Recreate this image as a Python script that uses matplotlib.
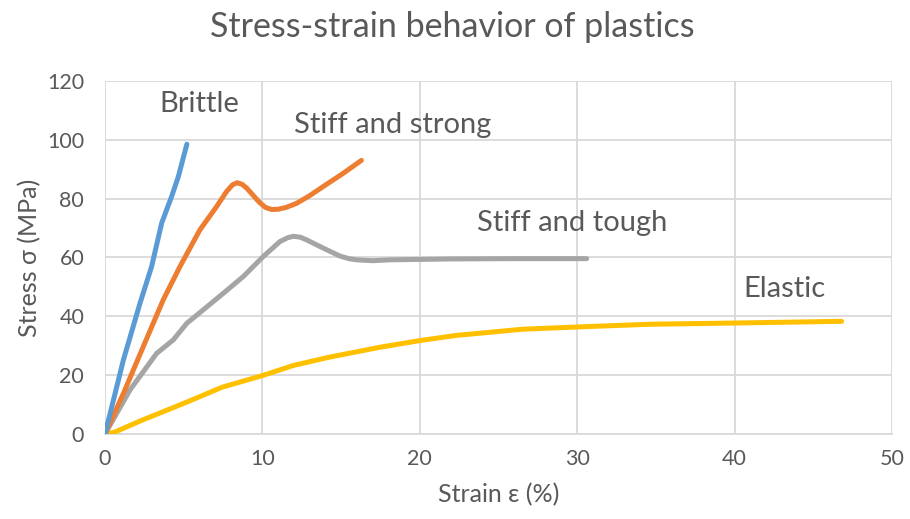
import matplotlib.pyplot as plt

plt.rcParams['font.family'] = ['Lato', 'DejaVu Sans']

# Curvas (deformación %, esfuerzo MPa)
brittle_x = [0, 1.17, 2.22, 2.96, 3.6, 4.23, 4.66, 5.2]
brittle_y = [0, 25.2, 44.4, 56.9, 71.7, 80.7, 87.5, 98.5]

strong_x = [0, 1.17, 2.43, 3.7, 4.76, 6.03, 7.09, 7.72, 8.1, 8.4, 8.7, 9.0, 9.4,
            9.8, 10.2, 10.6, 11.0, 11.5, 12.17, 13.0, 13.86, 15.13, 16.29]
strong_y = [0, 13.8, 29.7, 45.6, 56.9, 69.4, 77.3, 82.4, 84.7, 85.4, 84.9, 83.6, 81.2,
            78.8, 77.0, 76.3, 76.4, 77.0, 78.4, 81.0, 84.1, 88.6, 93.0]

tough_x = [0, 1.59, 3.28, 4.34, 5.19, 6.24, 7.51, 8.78, 10.05, 11.11, 11.6, 11.96,
           12.4, 12.8, 13.86, 14.92, 15.5, 15.98, 17.0, 18.1, 22.0, 26.0, 30.6]
tough_y = [0, 15.0, 27.4, 32.0, 37.6, 42.2, 47.8, 53.5, 60.3, 65.4, 66.7, 67.2,
           66.9, 66.0, 63.2, 60.5, 59.6, 59.2, 58.9, 59.2, 59.5, 59.6, 59.6]

elastic_x = [0, 0.6, 2.27, 5.18, 7.44, 10.03, 11.97, 14.24, 17.48, 20.06, 22.3, 26.5,
             30.1, 34.6, 39.8, 46.8]
elastic_y = [0, 0.6, 4.5, 10.8, 15.9, 19.9, 23.3, 26.1, 29.5, 31.8, 33.5, 35.6,
             36.4, 37.3, 37.7, 38.3]

x_ticks = [0, 10, 20, 30, 40, 50]
y_ticks = [0, 20, 40, 60, 80, 100, 120]

grid_col = '#D9D9D9'
text_col = '#595959'

fig = plt.figure(figsize=(9.1, 5.19), dpi=100)
ax = fig.add_axes([0.1154, 0.1638, 0.8648, 0.6802])

kw = dict(lw=3.6, solid_capstyle='round', solid_joinstyle='round')
ax.plot(elastic_x, elastic_y, color='#FFC000', zorder=3, **kw)
ax.plot(tough_x, tough_y, color='#A5A5A5', zorder=3, **kw)
ax.plot(strong_x, strong_y, color='#ED7D31', zorder=4, **kw)
ax.plot(brittle_x, brittle_y, color='#5B9BD5', zorder=5, **kw)

ax.set_xlim(0, 50)
ax.set_ylim(0, 120)
ax.set_xticks(x_ticks)
ax.set_yticks(y_ticks)
ax.grid(True, color=grid_col, lw=1.3)
ax.set_axisbelow(True)
for s in ['top', 'right', 'left']:
    ax.spines[s].set_visible(False)
ax.spines['bottom'].set_color(grid_col)
ax.spines['bottom'].set_linewidth(1.3)
ax.tick_params(length=0, labelsize=15.5, labelcolor=text_col)
ax.tick_params(axis='x', pad=11)
ax.tick_params(axis='y', pad=15)

ax.set_xlabel('Strain ε (%)', fontsize=18, color=text_col, labelpad=10)
ax.set_ylabel('Stress σ (MPa)', fontsize=18, color=text_col, labelpad=4)

lbl = dict(fontsize=21, color=text_col, ha='center', va='center')
ax.text(6.0, 112, 'Brittle', **lbl)
ax.text(18.3, 105, 'Stiff and strong', **lbl)
ax.text(29.7, 71.8, 'Stiff and tough', **lbl)
ax.text(43.2, 49.3, 'Elastic', **lbl)

fig.suptitle('Stress-strain behavior of plastics', fontsize=24.5, color=text_col,
             x=0.497, y=0.978, va='top')

fig.savefig('out.png', dpi=100)
